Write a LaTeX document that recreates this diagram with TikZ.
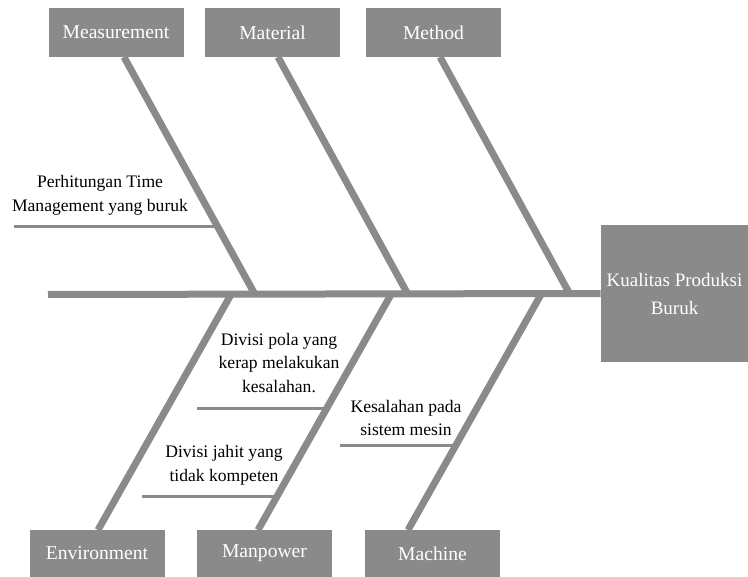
\documentclass[tikz,border=0pt]{standalone}
\usepackage{fontspec}
\setmainfont{Liberation Serif}
\usetikzlibrary{calc}
\definecolor{bonegray}{HTML}{8A8A8A}
\tikzset{
  catbox/.style={rectangle, fill=bonegray, text=white, inner sep=0pt, minimum width=67.5pt, minimum height=24.5pt, font=\fontsize{9.8}{12}\selectfont},
  effectbox/.style={rectangle, fill=bonegray, text=white, inner sep=0pt, minimum width=73.5pt, minimum height=68.5pt, align=center, font=\fontsize{9.5}{14}\selectfont},
  bone/.style={bonegray, line width=3.5pt},
  subbone/.style={bonegray, line width=1.5pt},
  cause/.style={align=center, inner sep=0pt, font=\fontsize{8.8}{11.8}\selectfont}
}

\begin{document}
\begin{tikzpicture}[x=0.5pt, y=-0.5pt]
  \useasboundingbox (0,0) rectangle (748,577);

  \node[catbox] (measure) at (116,32.5) {Measurement};
  \node[catbox] (material) at (272.5,32.5) {Material};
  \node[catbox] (method) at (433.5,32.5) {Method};
  \node[catbox, minimum height=23.5pt] (environ) at (97,553.5) {Environment};
  \node[catbox, minimum height=23.5pt] (manpower) at (264.5,553.5) {Manpower};
  \node[catbox, minimum height=23.5pt] (machine) at (432.5,553.5) {Machine};
  \node[effectbox] (effect) at (674.5,293.5) {Kualitas Produksi\\Buruk};

  \coordinate (tail) at (48,294.5);
  \coordinate (s1) at (255,294.5);
  \coordinate (s2) at (408,294.5);
  \coordinate (s3) at (570,294.5);
  \coordinate (s4) at (231,294.5);
  \coordinate (s5) at (391,294.5);
  \coordinate (s6) at (541,294.5);

  \draw[bone] (tail) -- (effect.west);
  \draw[bone] (124,57) -- (s1);
  \draw[bone] (278,57) -- (s2);
  \draw[bone] (440,57) -- (s3);
  \draw[bone] (s4) -- (98,530);
  \draw[bone] (s5) -- (258,530);
  \draw[bone] (s6) -- (408,530);

  \coordinate (c1) at (14,226);
  \coordinate (c2) at (197,408);
  \coordinate (c3) at (142,496);
  \coordinate (c4) at (340,445);
  \draw[subbone] (c1) -- (c1 -| 216,0);
  \draw[subbone] (c2) -- (c2 -| 326,0);
  \draw[subbone] (c3) -- (c3 -| 275,0);
  \draw[subbone] (c4) -- (c4 -| 455,0);

  \node[cause] (time) at (100,195) {Perhitungan Time\\Management yang buruk};
  \node[cause] (pola) at (279,363) {Divisi pola yang\\kerap melakukan\\kesalahan.};
  \node[cause] (jahit) at (224,465) {Divisi jahit yang\\tidak kompeten};
  \node[cause] (mesin) at (406,418) {Kesalahan pada\\sistem mesin};
\end{tikzpicture}
\end{document}
